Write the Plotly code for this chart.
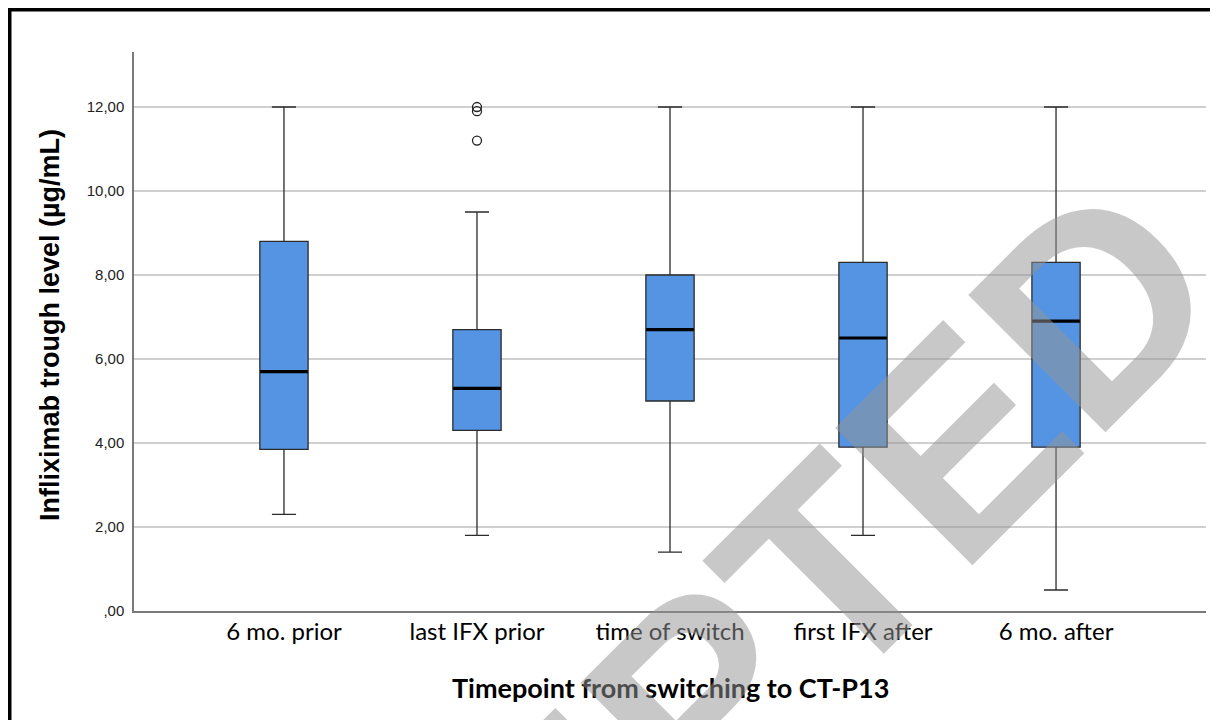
import plotly.graph_objects as go

categories = ["6 mo. prior", "last IFX prior", "time of switch", "first IFX after", "6 mo. after"]
upper_whisker = [12.0, 9.5, 12.0, 12.0, 12.0]
q3_values = [8.8, 6.7, 8.0, 8.3, 8.3]
median_values = [5.7, 5.3, 6.7, 6.5, 6.9]
q1_values = [3.85, 4.3, 5.0, 3.9, 3.9]
lower_whisker = [2.3, 1.8, 1.4, 1.8, 0.5]
outlier_cats = ["last IFX prior", "last IFX prior", "last IFX prior"]
outlier_values = [12.0, 11.9, 11.2]
y_tick_vals = [0, 2, 4, 6, 8, 10, 12]
y_tick_text = [",00", "2,00", "4,00", "6,00", "8,00", "10,00", "12,00"]

# page has an 8px body margin; figure sized so it fits the 1218x720 window
OFF = 8
W, H = 1218 - OFF, 720 - OFF
ML, MR, MT, MB = 134 - OFF, 12, 52 - OFF, 109
PW, PH = W - ML - MR, H - MT - MB


def px_x(x):
    """page pixel x -> paper coordinate"""
    return (x - OFF - ML) / PW


def px_y(y):
    """page pixel y -> paper coordinate"""
    return (H - MB - (y - OFF)) / PH


fig = go.Figure()
fig.add_trace(go.Box(
    x=categories, q1=q1_values, median=median_values, q3=q3_values,
    lowerfence=lower_whisker, upperfence=upper_whisker,
    boxpoints=False, width=0.25, whiskerwidth=0.5,
    fillcolor="#5494e3", line=dict(color="#2b2b2b", width=1.3),
    showlegend=False, hoverinfo="skip",
))
fig.add_trace(go.Scatter(
    x=categories, y=median_values, mode="markers",
    marker=dict(symbol="line-ew", size=34, line=dict(color="black", width=3.2)),
    showlegend=False, hoverinfo="skip",
))
fig.add_trace(go.Scatter(
    x=outlier_cats, y=outlier_values, mode="markers",
    marker=dict(symbol="circle-open", size=9, color="#222", line=dict(width=1.3)),
    showlegend=False, hoverinfo="skip",
))

fig.update_layout(
    width=W, height=H,
    margin=dict(l=ML, r=MR, t=MT, b=MB),
    paper_bgcolor="white", plot_bgcolor="white",
    xaxis=dict(
        type="category", categoryorder="array", categoryarray=categories,
        range=[-0.777, 4.777], showgrid=False, zeroline=False,
        showline=True, linecolor="#7a7a7a", linewidth=1.5,
        ticks="", ticklabelstandoff=-2,
        tickfont=dict(family="Lato", size=24, color="black"),
    ),
    yaxis=dict(
        range=[0, 13.31], tickvals=y_tick_vals, ticktext=y_tick_text,
        showgrid=True, gridcolor="#cfcfcf", gridwidth=1.5,
        zeroline=False, showline=True, linecolor="#7a7a7a", linewidth=1.5,
        ticks="", ticklabelstandoff=5,
        tickfont=dict(family="Liberation Sans", size=15, color="#222"),
    ),
    annotations=[
        dict(text="<b>Infliximab trough level (µg/mL)</b>", xref="paper", yref="paper",
             x=px_x(50), y=px_y(325), textangle=-90, showarrow=False,
             font=dict(family="Liberation Sans", size=27, color="black"),
             xanchor="center", yanchor="middle"),
        dict(text="<b>Timepoint from switching to CT-P13</b>", xref="paper", yref="paper",
             x=px_x(670), y=px_y(687), showarrow=False,
             font=dict(family="Lato", size=27, color="black"),
             xanchor="center", yanchor="middle"),
        dict(text="<b>ACCEPTED</b>", xref="paper", yref="paper",
             x=px_x(618), y=px_y(781), textangle=-45, showarrow=False,
             font=dict(family="Liberation Sans", size=282, color="rgba(148,148,148,0.515)"),
             xanchor="center", yanchor="middle"),
    ],
    shapes=[
        dict(type="rect", xref="paper", yref="paper",
             x0=px_x(9.5), x1=px_x(1300), y0=px_y(800), y1=px_y(9.5),
             line=dict(color="black", width=4), fillcolor="rgba(0,0,0,0)", layer="above"),
    ],
)

fig.write_html("out.html")
